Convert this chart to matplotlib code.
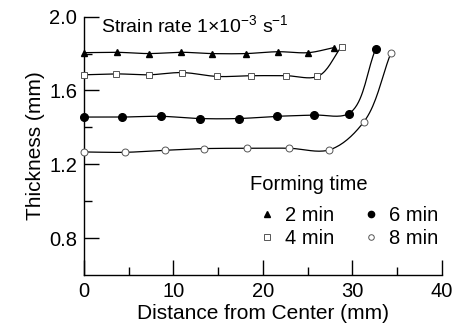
import numpy as np
import matplotlib
matplotlib.use("Agg")
import matplotlib.pyplot as plt
from matplotlib.lines import Line2D

plt.rcParams['font.family'] = ['Liberation Sans', 'DejaVu Sans']
plt.rcParams['mathtext.fontset'] = 'custom'
plt.rcParams['mathtext.rm'] = 'Liberation Sans'

# data
x_2min = [0, 3.65, 7.26, 10.84, 14.3, 18.1, 21.7, 25.1, 27.9]
y_2min = [1.805, 1.807, 1.800, 1.807, 1.800, 1.800, 1.810, 1.805, 1.832]
x_4min = [0, 3.58, 7.26, 11.0, 14.9, 18.7, 22.6, 26.1, 28.8]
y_4min = [1.685, 1.690, 1.685, 1.697, 1.676, 1.680, 1.680, 1.676, 1.838]
x_6min = [0, 4.28, 8.6, 12.96, 17.3, 21.6, 25.7, 29.6, 32.6]
y_6min = [1.456, 1.456, 1.460, 1.448, 1.448, 1.460, 1.467, 1.475, 1.824]
x_8min = [0, 4.58, 9.08, 13.4, 18.2, 22.9, 27.4, 31.3, 34.3]
y_8min = [1.267, 1.265, 1.276, 1.285, 1.287, 1.287, 1.278, 1.431, 1.802]


def smooth(xs, ys, n=20):
    # centripetal catmull-rom through the points, only for the drawn line
    p = np.column_stack([np.asarray(xs) / 40.0, (np.asarray(ys) - 0.6) / 1.4])
    p = np.vstack([2 * p[0] - p[1], p, 2 * p[-1] - p[-2]])
    out = []
    for i in range(1, len(p) - 2):
        p0, p1, p2, p3 = p[i - 1], p[i], p[i + 1], p[i + 2]
        t0 = 0
        t1 = t0 + np.linalg.norm(p1 - p0) ** 0.5
        t2 = t1 + np.linalg.norm(p2 - p1) ** 0.5
        t3 = t2 + np.linalg.norm(p3 - p2) ** 0.5
        t = np.linspace(t1, t2, n)[:, None]
        a1 = (t1 - t) / (t1 - t0) * p0 + (t - t0) / (t1 - t0) * p1
        a2 = (t2 - t) / (t2 - t1) * p1 + (t - t1) / (t2 - t1) * p2
        a3 = (t3 - t) / (t3 - t2) * p2 + (t - t2) / (t3 - t2) * p3
        b1 = (t2 - t) / (t2 - t0) * a1 + (t - t0) / (t2 - t0) * a2
        b2 = (t3 - t) / (t3 - t1) * a2 + (t - t1) / (t3 - t1) * a3
        c = (t2 - t) / (t2 - t1) * b1 + (t - t1) / (t2 - t1) * b2
        out.append(c)
    c = np.vstack(out)
    return c[:, 0] * 40.0, c[:, 1] * 1.4 + 0.6


fig = plt.figure(figsize=(4.69, 3.33), dpi=100)
ax = fig.add_axes([0.179, 0.174, 0.763, 0.776])

gray = '#555555'
series = [
    (x_2min, y_2min, dict(marker='^', color='black', ms=5, mfc='black', mec='black')),
    (x_4min, y_4min, dict(marker='s', color=gray, ms=5, mfc='white', mec=gray, mew=0.7)),
    (x_6min, y_6min, dict(marker='o', color='black', ms=5.5, mfc='black', mec='black')),
    (x_8min, y_8min, dict(marker='o', color=gray, ms=5, mfc='white', mec=gray, mew=0.7)),
]
for xs, ys, st in series:
    sx, sy = smooth(xs, ys)
    ax.plot(sx, sy, color='black', lw=0.9, zorder=2)
    ax.plot(xs, ys, ls='none', zorder=3, clip_on=False, **st)

ax.set_xlim(0, 40)
ax.set_ylim(0.6, 2.0)
ax.set_xticks([0, 10, 20, 30, 40])
ax.set_xticks([5, 15, 25, 35], minor=True)
ax.set_yticks([0.8, 1.2, 1.6, 2.0])
ax.set_yticks([1.0, 1.4, 1.8], minor=True)
ax.set_yticklabels(['0.8', '1.2', '1.6', '2.0'])
ax.spines['top'].set_visible(False)
ax.spines['right'].set_visible(False)
for s in ['left', 'bottom']:
    ax.spines[s].set_linewidth(1.0)
ax.tick_params(which='major', direction='in', length=11, width=1.0, labelsize=14.5, pad=5)
ax.tick_params(which='minor', direction='in', length=6, width=1.0)

ax.set_xlabel('Distance from Center (mm)', fontsize=15, labelpad=2)
ax.set_ylabel('Thickness (mm)', fontsize=15, labelpad=3)

ax.text(1.9, 1.95, r'Strain rate 1$\times$10$^{\mathregular{-3}}$ s$^{\mathregular{-1}}$',
        fontsize=14, va='center', ha='left')

handles = [
    Line2D([], [], ls='none', marker='^', color='black', ms=4),
    Line2D([], [], ls='none', marker='s', mfc='white', mec=gray, mew=0.7, ms=4),
    Line2D([], [], ls='none', marker='o', color='black', ms=4.5),
    Line2D([], [], ls='none', marker='o', mfc='white', mec=gray, mew=0.7, ms=4),
]
labels = ['2 min', '4 min', '6 min', '8 min']
ax.text(18.6, 1.09, 'Forming time', fontsize=14.5, va='center', ha='left')
ax.legend(handles, labels, ncol=2, frameon=False, fontsize=14.5,
          loc='center left', bbox_to_anchor=(0.495, 0.186),
          handlelength=0.6, handletextpad=0.6, columnspacing=1.5,
          labelspacing=0.2, borderpad=0, borderaxespad=0)

fig.savefig('out.png', dpi=100)
